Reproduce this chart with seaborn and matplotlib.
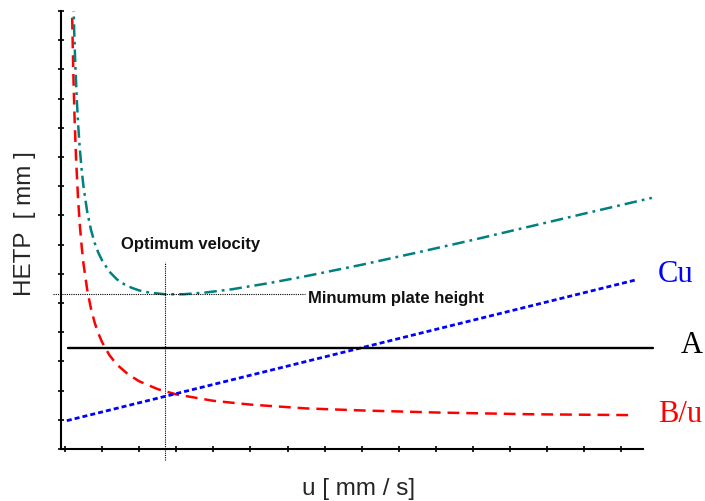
import matplotlib
matplotlib.use("Agg")
import matplotlib.pyplot as plt
import seaborn as sns
import pandas as pd

# Van Deemter terms: flow velocity u [mm/s] against plate height HETP [mm]
u_total = [0.22, 0.25, 0.28, 0.32, 0.36, 0.40, 0.45, 0.50, 0.60, 0.70, 0.80,
           0.90, 1.00, 1.20, 1.40, 1.60, 1.80, 2.00, 2.30, 2.70, 3.20, 3.80,
           4.50, 5.50, 6.50, 8.00, 9.50, 11.0, 12.5, 14.0, 15.82]
h_total = [15.71, 14.26, 13.12, 11.94, 11.02, 10.29, 9.56, 8.98, 8.12, 7.51,
           7.06, 6.72, 6.46, 6.07, 5.81, 5.64, 5.52, 5.43, 5.35, 5.30, 5.30,
           5.36, 5.47, 5.68, 5.92, 6.31, 6.73, 7.16, 7.61, 8.06, 8.60]

u_diff = [0.18, 0.20, 0.23, 0.26, 0.30, 0.35, 0.40, 0.45, 0.50, 0.60, 0.70,
          0.80, 0.90, 1.00, 1.20, 1.40, 1.70, 2.00, 2.50, 3.00, 4.00, 5.00,
          6.50, 8.00, 10.0, 12.5, 15.3]
h_diff = [15.87, 14.38, 12.63, 11.29, 9.91, 8.64, 7.68, 6.94, 6.34, 5.45, 4.81,
          4.33, 3.96, 3.66, 3.21, 2.89, 2.56, 2.32, 2.05, 1.87, 1.65, 1.52,
          1.39, 1.32, 1.25, 1.19, 1.16]

u_mass = [0.05, 15.42]
h_mass = [0.97, 5.80]

u_eddy = [0.08, 15.85]
h_eddy = [3.46, 3.46]

u_optimum = 2.70
h_minimum = 5.30

term_labels = ["Cu", "A", "B/u"]
term_colors = ["#0000FF", "#000000", "#FF0000"]

sns.set_style("white")
plt.rcParams["font.family"] = ["Liberation Sans", "DejaVu Sans"]
plt.rcParams["lines.scale_dashes"] = False

fig = plt.figure(figsize=(7.05, 5.01), dpi=100)
ax = fig.add_axes([0.0872, 0.1038, 0.8418, 0.8743])

total = pd.DataFrame({"u": u_total, "H": h_total})
diff = pd.DataFrame({"u": u_diff, "H": h_diff})
mass = pd.DataFrame({"u": u_mass, "H": h_mass})
eddy = pd.DataFrame({"u": u_eddy, "H": h_eddy})

sns.lineplot(data=diff, x="u", y="H", ax=ax, color="#FF0000", lw=1.8,
             linestyle=(0, (8.5, 5.0)), sort=False, estimator=None)
sns.lineplot(data=total, x="u", y="H", ax=ax, color="#008080", lw=1.8,
             linestyle=(0, (9.0, 3.6, 2.0, 3.6)), sort=False, estimator=None)
sns.lineplot(data=mass, x="u", y="H", ax=ax, color="#0000FF", lw=2.0,
             linestyle=(0, (3.6, 2.2)), sort=False, estimator=None)
sns.lineplot(data=eddy, x="u", y="H", ax=ax, color="#000000", lw=1.7,
             sort=False, estimator=None)

# guide lines through the minimum of the curve
ax.plot([-0.32, 6.47], [h_minimum, h_minimum], color="black", lw=0.8,
        linestyle=(0, (0.8, 0.8)), clip_on=False)
ax.plot([u_optimum, u_optimum], [-0.38, 6.40], color="black", lw=0.8,
        linestyle=(0, (0.8, 0.8)), clip_on=False)

ax.text(1.51, 6.85, "Optimum velocity", fontsize=12, fontweight="bold",
        ha="left", va="baseline", color="#111111")
ax.text(6.55, 5.0, "Minumum plate height", fontsize=12, fontweight="bold",
        ha="left", va="baseline", color="#111111")

label_pos = [(15.98, 5.72), (16.60, 3.29), (15.98, 0.92)]
for lab, col, (x, y) in zip(term_labels, term_colors, label_pos):
    ax.text(x, y, lab, color=col, fontsize=22, family=["Liberation Serif"],
            ha="left", va="baseline", clip_on=False)

ax.set_xlim(-0.094, 15.903)
ax.set_ylim(0, 15)
ax.set_xticks(range(0, 16))
ax.set_yticks(range(0, 16))
ax.set_xticklabels([])
ax.set_yticklabels([])
ax.tick_params(axis="both", which="major", direction="inout", length=4,
               width=1.2, color="black", bottom=True, left=True)

for side in ["top", "right"]:
    ax.spines[side].set_visible(False)
for side in ["left", "bottom"]:
    ax.spines[side].set_color("black")
    ax.spines[side].set_linewidth(1.5)
ax.spines["bottom"].set_bounds(-0.094, 15.58)
ax.spines["left"].set_bounds(0, 15)

ax.set_xlabel("u [ mm / s]", fontsize=17.5, va="center", ha="center")
ax.set_ylabel("HETP  [ mm ]", fontsize=17.5, va="center", ha="center")
ax.xaxis.set_label_coords(0.501, -0.0913)
ax.yaxis.set_label_coords(-0.0607, 0.514)

fig.savefig("out.png", dpi=100)
